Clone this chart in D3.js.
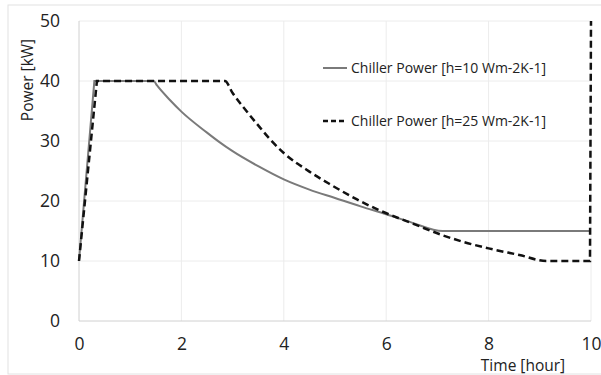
<!DOCTYPE html>
<html>
<head>
<meta charset="utf-8">
<script src="https://cdn.jsdelivr.net/npm/d3@7"></script>
<style>
  body { margin: 0; background: #fff; }
  text { font-family: "Open Sans", "DejaVu Sans", sans-serif; fill: #222; }
</style>
</head>
<body>
<svg width="601" height="375"></svg>
<script>
// data
const xTicks = [0, 2, 4, 6, 8, 10];
const yTicks = [0, 10, 20, 30, 40, 50];

const h10Time = [0, 0.3, 1.46, 1.52, 1.78, 2, 2.5, 2.73, 3, 3.5, 4, 4.5, 5, 5.5, 6, 6.5, 7.1, 10];
const h10Power = [10, 40, 40, 39.3, 36.8, 34.9, 31.4, 29.9, 28.3, 25.8, 23.6, 21.9, 20.5, 19.1, 17.8, 16.4, 15, 15];

const h25Time = [0, 0.35, 2.85, 3, 3.27, 3.5, 3.73, 4, 4.5, 4.9, 5.42, 5.88, 6.5, 7.1, 7.5, 8, 8.6, 9.13, 9.98, 10];
const h25Power = [10, 40, 40, 38.0, 35.0, 32.6, 30.3, 28.0, 24.9, 22.8, 20.3, 18.4, 16.3, 14.3, 13.2, 12.1, 11, 10, 10, 50];

const seriesNames = ["Chiller Power [h=10 Wm-2K-1]", "Chiller Power [h=25 Wm-2K-1]"];

const svg = d3.select("svg");

// outer frame
svg.append("rect")
  .attr("x", 8).attr("y", 5)
  .attr("width", 600).attr("height", 369)
  .attr("fill", "none")
  .attr("stroke", "#e2e2e2");

const x = d3.scaleLinear().domain([0, 10]).range([79, 591]);
const y = d3.scaleLinear().domain([0, 50]).range([321, 21]);

// grid
svg.append("g")
  .selectAll("line")
  .data(yTicks.slice(1))
  .join("line")
  .attr("x1", x(0)).attr("x2", x(10))
  .attr("y1", d => y(d)).attr("y2", d => y(d))
  .attr("stroke", "#ececec");

svg.append("g")
  .selectAll("line")
  .data(xTicks.slice(1))
  .join("line")
  .attr("x1", d => x(d)).attr("x2", d => x(d))
  .attr("y1", y(0)).attr("y2", y(50))
  .attr("stroke", "#ececec");

// axes
const xAxis = svg.append("g")
  .attr("transform", `translate(0, ${y(0)})`)
  .call(d3.axisBottom(x).tickValues(xTicks).tickSize(0).tickPadding(17));
const yAxis = svg.append("g")
  .attr("transform", `translate(${x(0)}, 0)`)
  .call(d3.axisLeft(y).tickValues(yTicks).tickSize(0).tickPadding(19));

[xAxis, yAxis].forEach(g => {
  g.select(".domain").attr("stroke", "#d0d0d0");
  g.selectAll("text")
    .attr("font-size", 17.5)
    .attr("font-family", "'Open Sans', sans-serif")
    .attr("fill", "#222");
});
yAxis.select(".domain").attr("d", `M0,${y(0)}V${y(50)}`);
xAxis.select(".domain").attr("d", `M${x(0)},0H${x(10)}`);

// titles
svg.append("text")
  .attr("x", 523).attr("y", 371)
  .attr("text-anchor", "middle")
  .attr("font-size", 15.5)
  .text("Time [hour]");

svg.append("text")
  .attr("transform", "translate(33, 80) rotate(-90)")
  .attr("text-anchor", "middle")
  .attr("font-size", 15.5)
  .text("Power [kW]");

// lines: straight ramps, smooth decay
const straight = d3.line()
  .x(d => x(d[0]))
  .y(d => y(d[1]));
const smooth = d3.line()
  .x(d => x(d[0]))
  .y(d => y(d[1]))
  .curve(d3.curveMonotoneX);

function pathFor(pts, tailStraight) {
  const end = tailStraight ? pts.length - 2 : pts.length - 1;
  let d = straight(pts.slice(0, 2)) + smooth(pts.slice(1, end + 1)).replace(/^M[^CLH]*/, "");
  if (tailStraight) d += "L" + x(pts[pts.length - 1][0]) + "," + y(pts[pts.length - 1][1]);
  return d;
}

svg.append("path")
  .attr("fill", "none")
  .attr("stroke", "#7a7a7a")
  .attr("stroke-width", 2)
  .attr("d", pathFor(d3.zip(h10Time, h10Power), false));

svg.append("path")
  .attr("fill", "none")
  .attr("stroke", "#111")
  .attr("stroke-width", 2.5)
  .attr("stroke-dasharray", "7,4")
  .attr("d", pathFor(d3.zip(h25Time, h25Power), true));

// legend
const legend = svg.append("g");
const legendY = [68, 121];
legend.selectAll("line")
  .data(seriesNames)
  .join("line")
  .attr("x1", 323).attr("x2", 347)
  .attr("y1", (d, i) => legendY[i]).attr("y2", (d, i) => legendY[i])
  .attr("stroke", (d, i) => i === 0 ? "#7a7a7a" : "#111")
  .attr("stroke-width", (d, i) => i === 0 ? 2 : 2.5)
  .attr("stroke-dasharray", (d, i) => i === 0 ? null : "5,3");

legend.selectAll("text")
  .data(seriesNames)
  .join("text")
  .attr("x", 351)
  .attr("y", (d, i) => legendY[i])
  .attr("dy", "0.35em")
  .attr("font-size", 14)
  .text(d => d);
</script>
</body>
</html>
